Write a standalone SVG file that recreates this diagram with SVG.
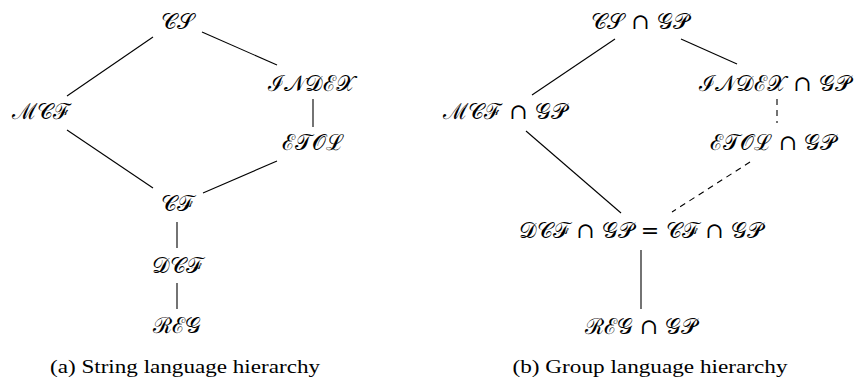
<svg xmlns="http://www.w3.org/2000/svg" width="855" height="382" viewBox="0 0 855 382">
<style>
.n{font-family:"DejaVu Serif","Liberation Serif",serif;font-size:22px;text-anchor:middle;fill:#000}
.c{font-family:"Liberation Serif",serif;font-size:19px;text-anchor:middle;fill:#000}
.e{stroke:#000;stroke-width:1.1;fill:none}
.d{stroke-dasharray:6 5}
</style>
<rect width="855" height="382" fill="#fff"/>
<g id="connectors">
<line class="e" x1="153" y1="37" x2="67" y2="96"/>
<line class="e" x1="202" y1="32" x2="277" y2="65"/>
<line class="e" x1="313" y1="99" x2="313" y2="127"/>
<line class="e" x1="67" y1="130" x2="153" y2="188"/>
<line class="e" x1="277" y1="161" x2="203" y2="193"/>
<line class="e" x1="177" y1="222" x2="177" y2="248"/>
<line class="e" x1="177" y1="283" x2="177" y2="309"/>
<line class="e" x1="615" y1="39" x2="532" y2="95"/>
<line class="e" x1="681" y1="39" x2="737" y2="64"/>
<line class="e d" x1="777" y1="99" x2="777" y2="123"/>
<line class="e" x1="526" y1="131" x2="621" y2="213"/>
<line class="e d" x1="750" y1="162" x2="672" y2="212"/>
<line class="e" x1="641" y1="250" x2="641" y2="309"/>
</g>
<g id="a-CS"><text class="n" x="177" y="29">𝒞𝒮</text></g>
<g id="a-INDEX"><text class="n" x="311" y="91">ℐ𝒩𝒟ℰ𝒳</text></g>
<g id="a-MCF"><text class="n" x="41" y="119">ℳ𝒞ℱ</text></g>
<g id="a-ETOL"><text class="n" x="313" y="150">ℰ𝒯𝒪ℒ</text></g>
<g id="a-CF"><text class="n" x="177" y="211">𝒞ℱ</text></g>
<g id="a-DCF"><text class="n" x="177" y="273">𝒟𝒞ℱ</text></g>
<g id="a-REG"><text class="n" x="177" y="333">ℛℰ𝒢</text></g>
<g id="b-CS"><text class="n" x="640" y="29">𝒞𝒮 ∩ 𝒢𝒫</text></g>
<g id="b-INDEX"><text class="n" x="775" y="91">ℐ𝒩𝒟ℰ𝒳 ∩ 𝒢𝒫</text></g>
<g id="b-MCF"><text class="n" x="505" y="119">ℳ𝒞ℱ ∩ 𝒢𝒫</text></g>
<g id="b-ETOL"><text class="n" x="773" y="150">ℰ𝒯𝒪ℒ ∩ 𝒢𝒫</text></g>
<g id="b-DCF"><text class="n" x="641" y="238">𝒟𝒞ℱ ∩ 𝒢𝒫 = 𝒞ℱ ∩ 𝒢𝒫</text></g>
<g id="b-REG"><text class="n" x="641" y="334">ℛℰ𝒢 ∩ 𝒢𝒫</text></g>
<text class="c" x="185" y="373" textLength="270" lengthAdjust="spacingAndGlyphs">(a) String language hierarchy</text>
<text class="c" x="650" y="373" textLength="275" lengthAdjust="spacingAndGlyphs">(b) Group language hierarchy</text>
</svg>
